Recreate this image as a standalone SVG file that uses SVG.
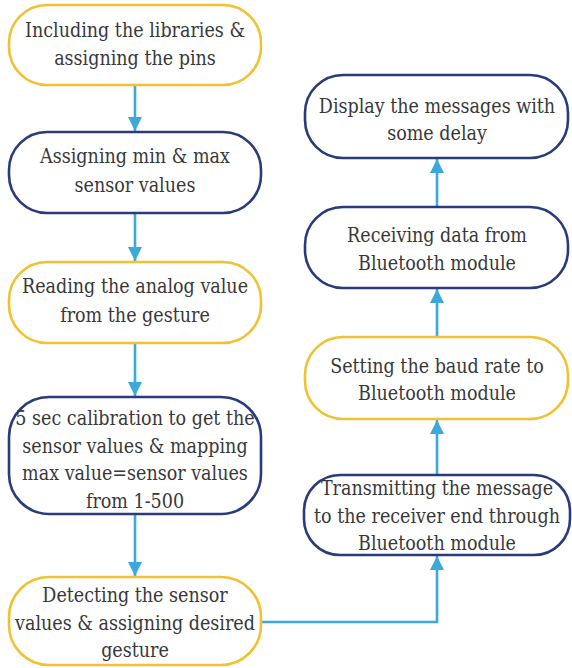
<svg xmlns="http://www.w3.org/2000/svg" width="572" height="668" viewBox="0 0 572 668">
<style>
.y{fill:#fff;stroke:#F0C232;stroke-width:2.6}
.n{fill:#fff;stroke:#2A3B7C;stroke-width:2.6}
.t{font-size:19.5px;fill:#383838;text-anchor:middle;font-stretch:condensed}
.c{fill:none;stroke:#3CA9DB;stroke-width:2.6}
</style>
<defs>
<marker id="ah" markerUnits="userSpaceOnUse" markerWidth="14" markerHeight="16" refX="14" refY="7" orient="auto">
<path d="M0,0 L14,7 L0,14 z" fill="#3CA9DB"/>
</marker>
</defs>
<rect width="572" height="668" fill="#fff"/>
<g id="connectors">
<line class="c" x1="135" y1="85" x2="135" y2="131" marker-end="url(#ah)"/>
<line class="c" x1="135" y1="213" x2="135" y2="261" marker-end="url(#ah)"/>
<line class="c" x1="135" y1="343" x2="135" y2="396" marker-end="url(#ah)"/>
<line class="c" x1="135" y1="514" x2="135" y2="576" marker-end="url(#ah)"/>
<polyline class="c" points="261,622 437,622 437,556" marker-end="url(#ah)"/>
<line class="c" x1="437" y1="475" x2="437" y2="420" marker-end="url(#ah)"/>
<line class="c" x1="437" y1="337" x2="437" y2="289" marker-end="url(#ah)"/>
<line class="c" x1="437" y1="207" x2="437" y2="159" marker-end="url(#ah)"/>
</g>
<g class="t" font-family="DejaVu Serif Condensed, DejaVu Serif, serif">
<g id="n1">
<rect class="y" x="9" y="5" width="252" height="80" rx="38"/>
<text x="135" y="37">Including the libraries &amp;</text>
<text x="135" y="65">assigning the pins</text>
</g>
<g id="n2">
<rect class="n" x="9" y="132" width="252" height="81" rx="38"/>
<text x="135" y="163">Assigning min &amp; max</text>
<text x="135" y="192">sensor values</text>
</g>
<g id="n3">
<rect class="y" x="9" y="262" width="252" height="81" rx="38"/>
<text x="135" y="293">Reading the analog value</text>
<text x="135" y="322">from the gesture</text>
</g>
<g id="n4">
<rect class="n" x="9" y="397" width="252" height="117" rx="40"/>
<text x="135" y="425">5 sec calibration to get the</text>
<text x="135" y="453">sensor values &amp; mapping</text>
<text x="135" y="480">max value=sensor values</text>
<text x="135" y="508">from 1-500</text>
</g>
<g id="n5">
<rect class="y" x="9" y="577" width="252" height="88" rx="40"/>
<text x="135" y="602">Detecting the sensor</text>
<text x="135" y="630">values &amp; assigning desired</text>
<text x="135" y="657">gesture</text>
</g>
<g id="n6">
<rect class="n" x="305" y="75" width="263" height="83" rx="38"/>
<text x="437" y="113">Display the messages with</text>
<text x="437" y="140">some delay</text>
</g>
<g id="n7">
<rect class="n" x="305" y="207" width="263" height="81" rx="38"/>
<text x="437" y="242">Receiving data from</text>
<text x="437" y="270">Bluetooth module</text>
</g>
<g id="n8">
<rect class="y" x="305" y="337" width="263" height="82" rx="38"/>
<text x="437" y="373">Setting the baud rate to</text>
<text x="437" y="400">Bluetooth module</text>
</g>
<g id="n9">
<rect class="n" x="304" y="475" width="266" height="80" rx="36"/>
<text x="437" y="495">Transmitting the message</text>
<text x="437" y="523">to the receiver end through</text>
<text x="437" y="550">Bluetooth module</text>
</g>
</g>
</svg>
